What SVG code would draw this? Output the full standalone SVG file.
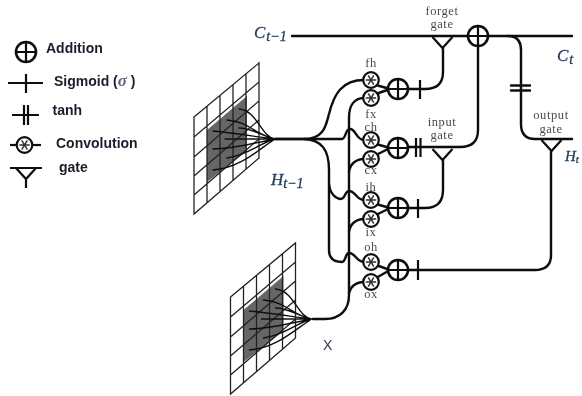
<svg xmlns="http://www.w3.org/2000/svg" width="582" height="396" viewBox="0 0 582 396">
<style>
.w{fill:none;stroke:#111;stroke-width:2.4;stroke-linecap:round;stroke-linejoin:round}
.g{fill:none;stroke:#222;stroke-width:1.3}
.ft{fill:none;stroke:#111;stroke-width:1.4;stroke-linecap:round}
.n{fill:#fff;stroke:#111;stroke-width:2.2}
.a{fill:#fff;stroke:#111;stroke-width:2.6}
.l{fill:none;stroke:#111;stroke-width:2.2}
.st{fill:none;stroke:#333;stroke-width:1.5}
.s{font-family:"Liberation Serif",serif;font-size:12.500px;letter-spacing:.6px;fill:#4a4a4a;text-anchor:middle}
.m{font-family:"Liberation Serif",serif;font-style:italic;font-size:17px;fill:#243c5a;stroke:#243c5a;stroke-width:.3}
.b{font-family:"Liberation Sans",Arial,sans-serif;font-weight:bold;font-size:14px;fill:#1b1b2b}
</style>
<defs>
<filter id="soft" x="0" y="0" width="582" height="396" filterUnits="userSpaceOnUse"><feGaussianBlur stdDeviation="0.35"/></filter>
<g id="add"><circle r="10" class="a"/><path d="M-10 0H10M0-10V10" class="l"/></g>
<g id="conv"><circle r="7.800" class="n"/><path d="M-5.200 0H5.200M-2.800-4.600 2.800 4.600M-2.800 4.600 2.800-4.600" class="st"/></g>
<g id="gate"><path d="M-10 0 0 11 10 0" class="l"/></g>
<g id="grid">
<path d="M194 117 259 63V158L194 214Z" fill="#fff" stroke="none"/>
<path d="M207 130 247 96V151L207 182Z" fill="#666"/>
<path class="g" d="M194 117 259 63V158L194 214ZM207 106V203M220 95V192M233 84V181M246 73V169M194 137 259 82M194 157 259 101M194 176 259 120M194 195 259 139"/>
<path class="ft" d="M239 109C258 111 260 136 275 139M227 120C250 122 255 135 275 139M239 128C252 128 262 136 275 139M213 131C235 133 258 137 275 139M225 139H275M213 149C235 149 258 142 275 139M227 158C248 155 260 143 275 139M213 170C240 168 258 150 275 139"/>
</g>
</defs>
<g filter="url(#soft)">
<g id="legend-addition"><use href="#add" x="26" y="52"/><text class="b" x="46" y="53">Addition</text></g>
<g id="legend-sigmoid"><path class="l" d="M8 83H43M26 74V93"/><text class="b" x="54" y="86">Sigmoid (<tspan font-family="Liberation Serif" font-style="italic" font-size="17" fill="#5a6478">σ</tspan> )</text></g>
<g id="legend-tanh"><path class="l" d="M12 115H39M24 105V125M28 105V125"/><text class="b" x="52.500" y="115">tanh</text></g>
<g id="legend-convolution"><path class="l" d="M10 145H41"/><use href="#conv" x="24.500" y="145"/><text class="b" x="56" y="148">Convolution</text></g>
<g id="legend-gate"><path class="l" d="M10 168H42M16 168 26 179 36 168M26 179V188"/><text class="b" x="59" y="172">gate</text></g>

<g id="connectors">
<path class="w" d="M292 36H572"/>
<path class="w" d="M443 48V72Q443 89 425 89H408"/>
<path class="w" d="M478 46V130Q478 147 460 147H408"/>
<path class="w" d="M443 160V190Q443 208 425 208H408"/>
<path class="w" d="M551 152V255Q551 270 535 270H408"/>
<path class="w" d="M508 36Q521 36 521 50V124Q521 139 535 139H572"/>
<path class="w" d="M511 85.500H530M511 90.500H530"/>
<path class="w" d="M275 139H304C325 139 326 124 329 114C334 94 342 80 364 80"/>
<path class="w" d="M275 139H342C346 139 345 129 350 129C356 129 356 140 364 140"/>
<path class="w" d="M304 139C322 140 329 150 329 170V250C329 258 334 262 342 262C346 262 345 253 349 253C356 253 356 262 364 262"/>
<path class="w" d="M329 184C330 194 336 199 341 199C345 199 345 191 349 191C356 191 356 200 364 200"/>
<path class="w" d="M313 319H325C340 319 349 310 349 295V118C349 106 354 98 364 98"/>
<path class="w" d="M349 172C350 164 356 159 364 159M349 232C350 224 356 219 364 219M349 293C350 287 356 282 364 282"/>
<path class="w" d="M376 85 390 89M376 94 390 89M376 144 390 148M376 155 390 148M376 204 390 208M376 215 390 208M376 265 390 270M376 278 390 270"/>
</g>

<g id="grid-h"><use href="#grid"/></g>
<g id="grid-x"><use href="#grid" x="36.500" y="180"/></g>

<g id="sum-c"><use href="#add" x="478" y="36"/></g>
<g id="forget-gate"><use href="#gate" x="442.500" y="37"/><text class="s" x="442" y="15">forget</text><text class="s" x="442" y="28">gate</text></g>
<g id="input-gate"><use href="#gate" x="442.500" y="149"/><text class="s" x="442" y="126">input</text><text class="s" x="442" y="139">gate</text></g>
<g id="output-gate"><use href="#gate" x="551.500" y="140"/><text class="s" x="551" y="119">output</text><text class="s" x="551" y="133">gate</text></g>

<g id="add-f"><use href="#add" x="398" y="89"/><path class="l" d="M420 80V99"/></g>
<g id="add-c"><use href="#add" x="398" y="148"/><path class="l" d="M416 138V157M420.500 138V157"/></g>
<g id="add-i"><use href="#add" x="398" y="208"/><path class="l" d="M418 199V218"/></g>
<g id="add-o"><use href="#add" x="398" y="270"/><path class="l" d="M418 260V280"/></g>

<g id="fh"><use href="#conv" x="371" y="80"/><text class="s" x="371" y="67">fh</text></g>
<g id="fx"><use href="#conv" x="371" y="98"/><text class="s" x="371" y="118">fx</text></g>
<g id="ch"><use href="#conv" x="371" y="140"/><text class="s" x="371" y="131">ch</text></g>
<g id="cx"><use href="#conv" x="371" y="159"/><text class="s" x="371" y="174">cx</text></g>
<g id="ih"><use href="#conv" x="371" y="200"/><text class="s" x="371" y="191">ih</text></g>
<g id="ix"><use href="#conv" x="371" y="219"/><text class="s" x="371" y="236">ix</text></g>
<g id="oh"><use href="#conv" x="371" y="262"/><text class="s" x="371" y="251">oh</text></g>
<g id="ox"><use href="#conv" x="371" y="282"/><text class="s" x="371" y="298">ox</text></g>

<g id="labels">
<text class="m" x="254" y="38">C<tspan font-size="14" dy="3" dx="1">t−1</tspan></text>
<text class="m" x="271" y="185">H<tspan font-size="14" dy="3">t−1</tspan></text>
<text class="m" x="557" y="61">C<tspan font-size="14" dy="3" dx="1">t</tspan></text>
<text class="m" x="565" y="161" style="font-size:15px">H<tspan font-size="11" dy="2">t</tspan></text>
<text x="323" y="350" font-family="Liberation Sans,sans-serif" font-size="14" fill="#2b3a4a">X</text>
</g>
</g>
</svg>
